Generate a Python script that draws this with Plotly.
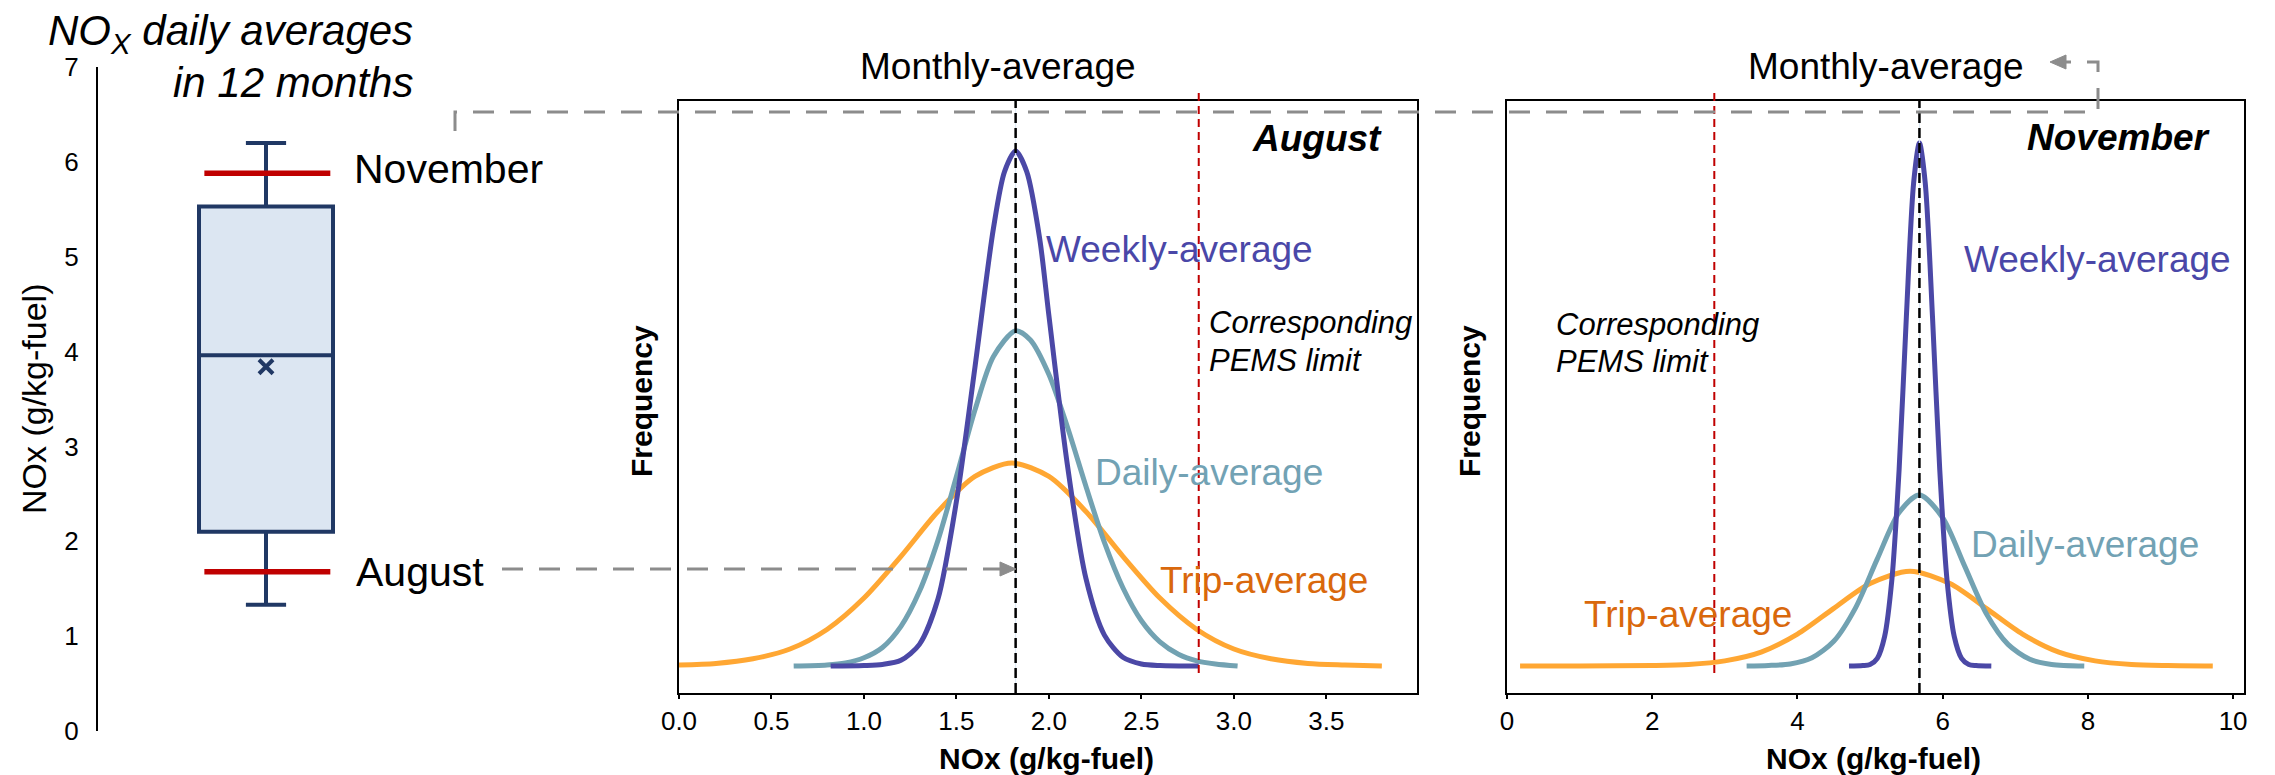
import plotly.graph_objects as go

W, H = 2275, 775
FONT = "Liberation Sans, Arial, sans-serif"


def px(x):
    return x / W


def py(y):
    return 1 - y / H


# ---------------- data ----------------
# left panel: distribution of NOx daily averages over 12 months
box_q1 = [2.10]
box_median = [3.96]
box_q3 = [5.53]
box_lower = [1.33]
box_upper = [6.20]
box_mean = [3.84]
month_names = ["November", "August"]
month_values = [5.88, 1.68]

# monthly averages and PEMS limits (g/kg-fuel)
aug_monthly = 1.82
nov_monthly = 5.68
aug_limit = 2.81
nov_limit = 2.855

# August frequency curves
aug_week_x = [0.82, 1.0, 1.1, 1.2, 1.3, 1.4, 1.5, 1.6, 1.7, 1.76, 1.82, 1.88, 1.95, 2.0, 2.1, 2.2, 2.3, 2.4, 2.5, 2.6, 2.81]
aug_week_y = [0.0, 0.001, 0.003, 0.011, 0.042, 0.13, 0.32, 0.58, 0.85, 0.96, 1.0, 0.96, 0.83, 0.68, 0.39, 0.17, 0.06, 0.017, 0.004, 0.001, 0.0]
aug_day_x = [0.62, 0.8, 0.9, 1.0, 1.1, 1.2, 1.3, 1.4, 1.5, 1.6, 1.7, 1.82, 1.9, 2.0, 2.1, 2.2, 2.3, 2.4, 2.5, 2.6, 2.7, 2.8, 2.9, 3.02]
aug_day_y = [0.0, 0.002, 0.006, 0.016, 0.036, 0.077, 0.145, 0.244, 0.368, 0.497, 0.601, 0.651, 0.633, 0.566, 0.464, 0.349, 0.240, 0.152, 0.088, 0.047, 0.023, 0.010, 0.004, 0.0]
aug_trip_x = [0.0, 0.2, 0.4, 0.6, 0.8, 1.0, 1.2, 1.4, 1.6, 1.8, 2.0, 2.2, 2.4, 2.6, 2.8, 3.0, 3.2, 3.4, 3.6, 3.8]
aug_trip_y = [0.002, 0.005, 0.014, 0.033, 0.071, 0.132, 0.213, 0.300, 0.368, 0.394, 0.368, 0.300, 0.213, 0.132, 0.071, 0.033, 0.014, 0.005, 0.002, 0.0]

# November frequency curves
nov_week_x = [4.71, 4.9, 5.0, 5.1, 5.2, 5.3, 5.4, 5.5, 5.6, 5.68, 5.76, 5.86, 5.96, 6.06, 6.16, 6.26, 6.36, 6.46, 6.67]
nov_week_y = [0.0, 0.001, 0.003, 0.015, 0.057, 0.167, 0.381, 0.678, 0.938, 1.016, 0.938, 0.678, 0.381, 0.167, 0.057, 0.015, 0.003, 0.001, 0.0]
nov_day_x = [3.3, 3.6, 3.9, 4.2, 4.5, 4.8, 5.1, 5.4, 5.68, 6.0, 6.3, 6.6, 6.9, 7.2, 7.5, 7.95]
nov_day_y = [0.0, 0.001, 0.004, 0.016, 0.048, 0.113, 0.208, 0.298, 0.332, 0.288, 0.195, 0.102, 0.042, 0.013, 0.003, 0.0]
nov_trip_x = [0.18, 1.0, 2.0, 2.5, 3.0, 3.5, 4.0, 4.5, 5.0, 5.55, 6.1, 6.6, 7.1, 7.6, 8.1, 8.6, 9.1, 9.72]
nov_trip_y = [0.0, 0.0, 0.001, 0.003, 0.010, 0.027, 0.062, 0.112, 0.160, 0.184, 0.160, 0.112, 0.062, 0.027, 0.010, 0.003, 0.001, 0.0]

# ---------------- styles ----------------
NAVY = "#203864"
BOXFILL = "#dce6f2"
RED = "#c00000"
PURPLE = "#4b48a6"
TEAL = "#72a2b2"
ORANGE = "#ffa733"
PURPLE_T = "#4a47a8"
TEAL_T = "#72a2b4"
ORANGE_T = "#d9680c"
GRAY = "#8c8c8c"

fig = go.Figure()

# box plot
fig.add_trace(go.Box(
    x=[0], q1=box_q1, median=box_median, q3=box_q3,
    lowerfence=box_lower, upperfence=box_upper,
    orientation="v", width=1, whiskerwidth=0.3, boxpoints=False,
    line=dict(color=NAVY, width=4), fillcolor=BOXFILL,
    xaxis="x", yaxis="y", showlegend=False, hoverinfo="skip"))
fig.add_trace(go.Scatter(
    x=[0], y=box_mean, mode="markers",
    marker=dict(symbol="x-thin", size=14, line=dict(color=NAVY, width=4)),
    xaxis="x", yaxis="y", showlegend=False, hoverinfo="skip"))
for v in month_values:
    fig.add_trace(go.Scatter(
        x=[-0.46, 0.48], y=[v, v], mode="lines",
        line=dict(color=RED, width=5.5), xaxis="x", yaxis="y",
        showlegend=False, hoverinfo="skip"))


# curves
def curve(x, y, color, xa, ya):
    fig.add_trace(go.Scatter(
        x=x, y=y, mode="lines", line=dict(color=color, width=5, shape="spline", smoothing=0.8),
        xaxis=xa, yaxis=ya, showlegend=False, hoverinfo="skip"))


curve(aug_trip_x, aug_trip_y, ORANGE, "x2", "y2")
curve(aug_day_x, aug_day_y, TEAL, "x2", "y2")
curve(aug_week_x, aug_week_y, PURPLE, "x2", "y2")
curve(nov_trip_x, nov_trip_y, ORANGE, "x3", "y3")
curve(nov_day_x, nov_day_y, TEAL, "x3", "y3")
curve(nov_week_x, nov_week_y, PURPLE, "x3", "y3")

# ---------------- axes ----------------
box_left, box_right, box_center, box_px = 98, 560, 266, 134
yr_lo, yr_hi = -0.0524, 1.0971

panel_axis = dict(showline=True, linecolor="black", linewidth=2, mirror=True,
                  showgrid=False, zeroline=False, automargin=False)

fig.update_layout(
    template="none",
    width=W, height=H, margin=dict(l=0, r=0, t=0, b=0, pad=0, autoexpand=False),
    paper_bgcolor="white", plot_bgcolor="white",
    font=dict(family=FONT, color="black"),
    xaxis=dict(domain=[px(box_left), px(box_right)],
               range=[-(box_center - box_left) / box_px, (box_right - box_center) / box_px],
               visible=False, anchor="y", automargin=False),
    yaxis=dict(domain=[py(731), py(67)], range=[0, 7], dtick=1, anchor="x",
               showline=True, linecolor="black", linewidth=2, ticks="",
               showgrid=False, zeroline=False, tickfont=dict(size=26, family=FONT),
               ticklabelstandoff=12, automargin=False),
    xaxis2=dict(domain=[px(679), px(1417)], range=[0, 3.99], dtick=0.5, tickformat=".1f",
                anchor="y2", ticks="outside", ticklen=4, tickwidth=1.5, tickcolor="black",
                tickfont=dict(size=26, family=FONT), **panel_axis),
    yaxis2=dict(domain=[py(693), py(101)], range=[yr_lo, yr_hi], anchor="x2",
                showticklabels=False, ticks="", **panel_axis),
    xaxis3=dict(domain=[px(1507), px(2244)], range=[0, 10.15], dtick=2,
                anchor="y3", ticks="outside", ticklen=4, tickwidth=1.5, tickcolor="black",
                tickfont=dict(size=26, family=FONT), **panel_axis),
    yaxis3=dict(domain=[py(693), py(101)], range=[yr_lo, yr_hi], anchor="x3",
                showticklabels=False, ticks="", **panel_axis),
)

# ---------------- shapes ----------------
shapes = []
for xa, ya, mval, lim in [("x2", "y2", aug_monthly, aug_limit), ("x3", "y3", nov_monthly, nov_limit)]:
    shapes.append(dict(type="line", xref=xa, yref=ya + " domain", x0=mval, x1=mval, y0=0, y1=1,
                       line=dict(color="#dbe8f5", width=1), layer="above", xsizemode="scaled"))
    shapes.append(dict(type="line", xref=xa, yref=ya + " domain", x0=mval, x1=mval, y0=0, y1=1,
                       line=dict(color="black", width=2.5, dash="10px,5px"), layer="above"))
    shapes.append(dict(type="line", xref=xa, yref="paper", x0=lim, x1=lim, y0=py(673), y1=py(92),
                       line=dict(color=RED, width=2, dash="8px,5px"), layer="above"))


def path(points, close=False):
    s = "M " + " L ".join(f"{px(a):.6f},{py(b):.6f}" for a, b in points)
    return s + (" Z" if close else "")


# connectors
shapes.append(dict(type="path", xref="paper", yref="paper",
                   path=path([(455, 131), (455, 112), (2098, 112), (2098, 62), (2064, 62)]),
                   line=dict(color=GRAY, width=3, dash="21px,16px"), layer="above"))
shapes.append(dict(type="path", xref="paper", yref="paper",
                   path=path([(2050, 62), (2066, 55), (2066, 69)], close=True),
                   fillcolor=GRAY, line=dict(color=GRAY, width=1), layer="above"))
shapes.append(dict(type="path", xref="paper", yref="paper",
                   path=path([(502, 569), (1001, 569)]),
                   line=dict(color=GRAY, width=3, dash="21px,16px"), layer="above"))
shapes.append(dict(type="path", xref="paper", yref="paper",
                   path=path([(1016, 569), (1000, 562), (1000, 576)], close=True),
                   fillcolor=GRAY, line=dict(color=GRAY, width=1), layer="above"))
fig.update_layout(shapes=shapes)

# ---------------- annotations ----------------
anns = []


def ann(text, x, y, size, color="black", xanchor="center", angle=0, yanchor="middle"):
    anns.append(dict(text=text, x=px(x), y=py(y), xref="paper", yref="paper",
                     xanchor=xanchor, yanchor=yanchor, showarrow=False, textangle=angle,
                     font=dict(size=size, color=color, family=FONT)))


ann("<i>NO<sub>X</sub> daily averages</i>", 415, 34, 42, xanchor="right")
ann("<i>in 12 months</i>", 415, 82, 42, xanchor="right")
ann(month_names[0], 352, 169, 41, xanchor="left")
ann(month_names[1], 354, 572, 41, xanchor="left")
ann("NOx (g/kg-fuel)", 34, 399, 34, angle=-90)

# August panel
ann("Monthly-average", 998, 67, 37)
ann("<b><i>August</i></b>", 1384, 139, 37, xanchor="right")
ann("Weekly-average", 1044, 249, 37, color=PURPLE_T, xanchor="left")
ann("<i>Corresponding</i>", 1207, 322, 31, xanchor="left")
ann("<i>PEMS limit</i>", 1207, 360, 31, xanchor="left")
ann("Daily-average", 1093, 472, 37, color=TEAL_T, xanchor="left")
ann("Trip-average", 1158, 580, 37, color=ORANGE_T, xanchor="left")
ann("<b>Frequency</b>", 641, 401, 30, angle=-90)
ann("<b>NOx (g/kg-fuel)</b>", 1046, 758, 30)

# November panel
ann("Monthly-average", 1886, 67, 37)
ann("<b><i>November</i></b>", 2213, 137, 37, xanchor="right")
ann("Weekly-average", 1962, 259, 37, color=PURPLE_T, xanchor="left")
ann("<i>Corresponding</i>", 1554, 324, 31, xanchor="left")
ann("<i>PEMS limit</i>", 1554, 362, 31, xanchor="left")
ann("Daily-average", 1969, 544, 37, color=TEAL_T, xanchor="left")
ann("Trip-average", 1582, 614, 37, color=ORANGE_T, xanchor="left")
ann("<b>Frequency</b>", 1469, 401, 30, angle=-90)
ann("<b>NOx (g/kg-fuel)</b>", 1873, 758, 30)

fig.update_layout(annotations=anns)

fig.write_html("out.html")
